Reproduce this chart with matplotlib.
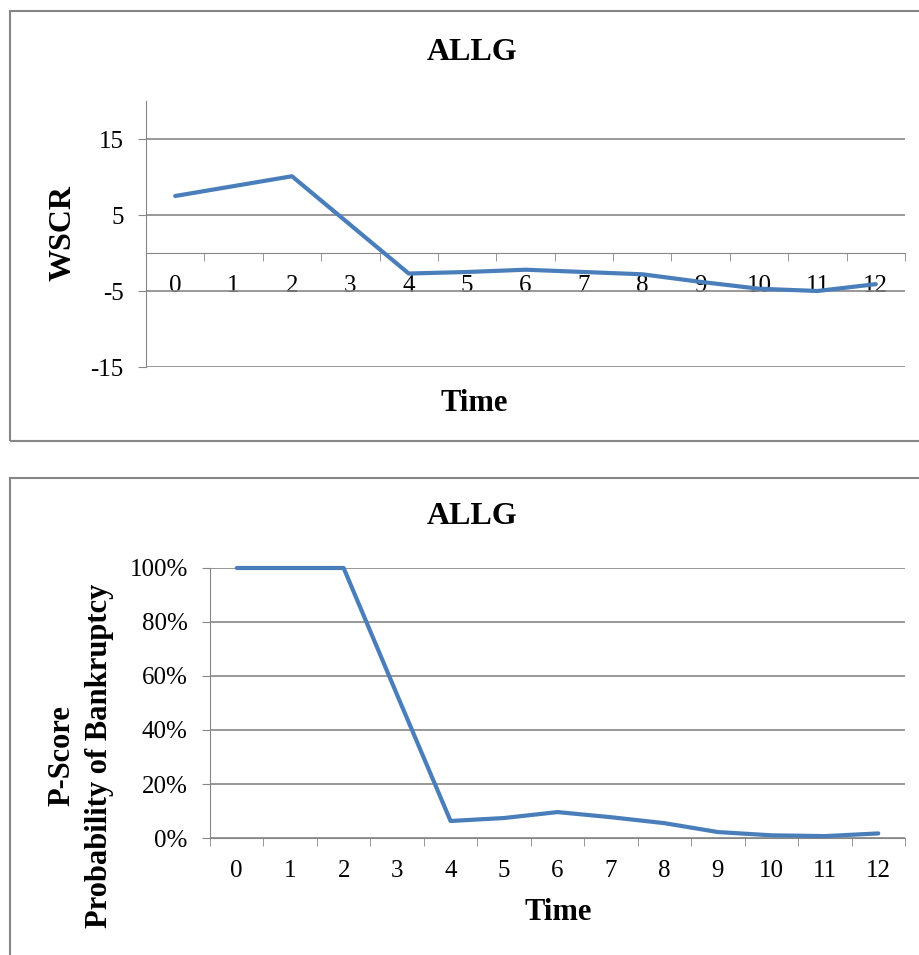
import matplotlib
matplotlib.use('Agg')
import matplotlib.pyplot as plt
import matplotlib.patches as mpatches
from matplotlib.ticker import FuncFormatter
import numpy as np

## Data
time = list(range(13))
wscr = [7.5, 8.8, 10.1, 3.7, -2.7, -2.5, -2.2, -2.5, -2.8, -3.8, -4.7, -5.0, -4.1]
p_score = [1.0, 1.0, 1.0, 0.53, 0.063, 0.074, 0.096, 0.077, 0.055, 0.022, 0.010, 0.007, 0.017]
wscr_ticks = [-15, -5, 5, 15]
p_ticks = [0, 0.2, 0.4, 0.6, 0.8, 1.0]

W, H = 920, 955
plt.rcParams['font.family'] = ['Liberation Serif', 'DejaVu Serif']
plt.rcParams['axes.unicode_minus'] = False
line_col = '#4A7EBB'
grid_col = '#868686'

fig = plt.figure(figsize=(W / 100, H / 100), dpi=100)
fig.patch.set_facecolor('white')


def px_axes(left, top, right, bottom):
    return fig.add_axes([left / W, 1 - bottom / H, (right - left) / W, (bottom - top) / H])


def fig_txt(x, y, s, **kw):
    fig.text(x / W, 1 - y / H, s, ha='center', va='center', **kw)


# panel frames
for (x0, y0, x1, y1) in [(10, 11, 930, 441), (10, 478, 930, 970)]:
    fig.add_artist(mpatches.Rectangle((x0 / W, 1 - y1 / H), (x1 - x0) / W, (y1 - y0) / H,
                                      transform=fig.transFigure, fill=False,
                                      edgecolor=grid_col, linewidth=1.5))


def style_axes(ax):
    for s in ['top', 'right']:
        ax.spines[s].set_visible(False)
    ax.spines['left'].set_color(grid_col)
    ax.spines['bottom'].set_color(grid_col)
    ax.set_xlim(-0.5, 12.5)
    ax.set_xticks(time)
    ax.set_xticks(np.arange(-0.5, 13, 1), minor=True)
    ax.tick_params(axis='x', which='major', length=0, pad=16, labelsize=18)
    ax.tick_params(axis='x', which='minor', length=6, color=grid_col, direction='out')
    ax.tick_params(axis='y', length=6, color=grid_col, pad=10, labelsize=18)
    ax.grid(axis='y', color=grid_col, linewidth=1.2)
    ax.set_axisbelow(True)


## Top panel: WSCR
ax1 = px_axes(146, 101, 905, 367)
style_axes(ax1)
ax1.set_ylim(-15, 20)
ax1.set_yticks(wscr_ticks)
ax1.spines['bottom'].set_position(('data', 0))
ax1.plot(time, wscr, color=line_col, linewidth=3, solid_capstyle='round', zorder=3)
for lbl in ax1.get_xticklabels():
    lbl.set_zorder(4)

fig_txt(472, 52, 'ALLG', fontsize=23, fontweight='bold')
fig_txt(474, 403, 'Time', fontsize=22, fontweight='bold')
fig_txt(63, 233, 'WSCR', fontsize=23, fontweight='bold', rotation=90)

## Bottom panel: P-Score
ax2 = px_axes(210, 568, 905, 838)
style_axes(ax2)
ax2.set_ylim(0, 1)
ax2.set_yticks(p_ticks)
ax2.yaxis.set_major_formatter(FuncFormatter(lambda v, _: f'{v*100:.0f}%'))
ax2.plot(time, p_score, color=line_col, linewidth=3, solid_capstyle='round',
         zorder=3, clip_on=False)

fig_txt(472, 516, 'ALLG', fontsize=23, fontweight='bold')
fig_txt(558, 912, 'Time', fontsize=22, fontweight='bold')
fig_txt(81, 756, 'P-Score\nProbability of Bankruptcy', fontsize=22,
        fontweight='bold', rotation=90, linespacing=1.4)

fig.savefig('out.png', dpi=100, facecolor='white')
